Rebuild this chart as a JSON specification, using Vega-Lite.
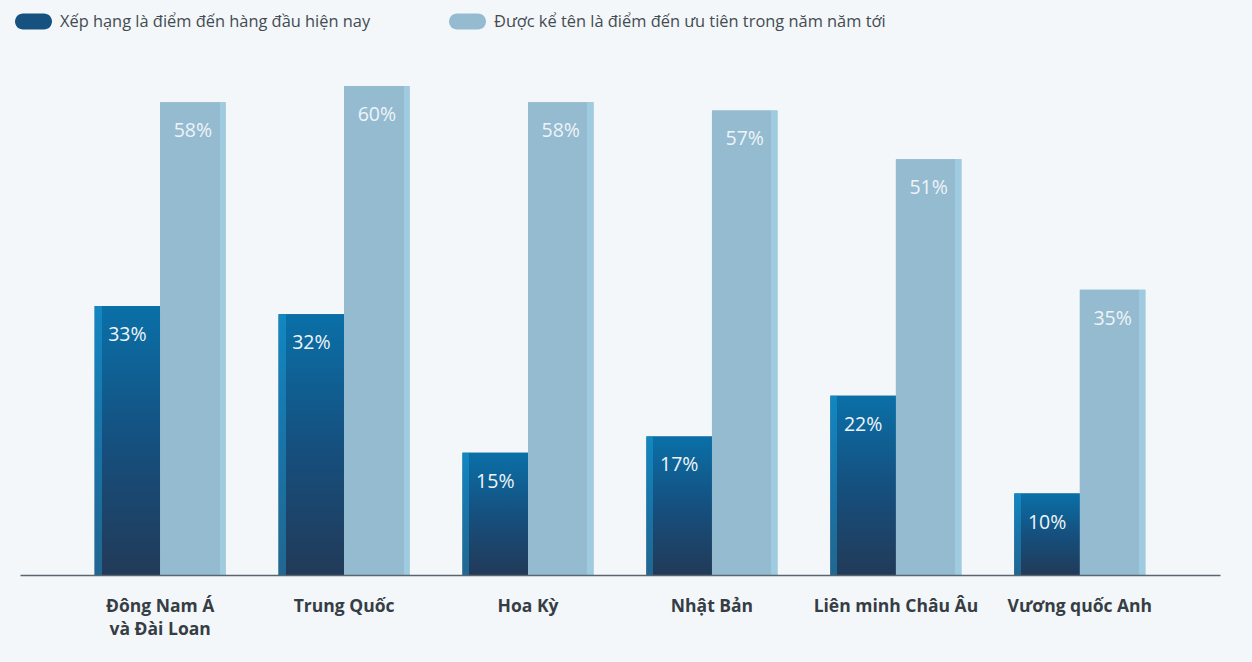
{
  "$schema": "https://vega.github.io/schema/vega-lite/v6.json",
  "width": 1200,
  "height": 489,
  "autosize": {"type": "none"},
  "padding": {"left": 20, "top": 86, "right": 32, "bottom": 87},
  "background": "#f3f7f9",
  "config": {
    "view": {"stroke": null},
    "font": "Open Sans"
  },
  "data": {
    "values": [
      {"region": "Đông Nam Á và Đài Loan", "series": "Xếp hạng là điểm đến hàng đầu hiện nay", "value": 33, "label": "33%"},
      {"region": "Đông Nam Á và Đài Loan", "series": "Được kể tên là điểm đến ưu tiên trong năm năm tới", "value": 58, "label": "58%"},
      {"region": "Trung Quốc", "series": "Xếp hạng là điểm đến hàng đầu hiện nay", "value": 32, "label": "32%"},
      {"region": "Trung Quốc", "series": "Được kể tên là điểm đến ưu tiên trong năm năm tới", "value": 60, "label": "60%"},
      {"region": "Hoa Kỳ", "series": "Xếp hạng là điểm đến hàng đầu hiện nay", "value": 15, "label": "15%"},
      {"region": "Hoa Kỳ", "series": "Được kể tên là điểm đến ưu tiên trong năm năm tới", "value": 58, "label": "58%"},
      {"region": "Nhật Bản", "series": "Xếp hạng là điểm đến hàng đầu hiện nay", "value": 17, "label": "17%"},
      {"region": "Nhật Bản", "series": "Được kể tên là điểm đến ưu tiên trong năm năm tới", "value": 57, "label": "57%"},
      {"region": "Liên minh Châu Âu", "series": "Xếp hạng là điểm đến hàng đầu hiện nay", "value": 22, "label": "22%"},
      {"region": "Liên minh Châu Âu", "series": "Được kể tên là điểm đến ưu tiên trong năm năm tới", "value": 51, "label": "51%"},
      {"region": "Vương quốc Anh", "series": "Xếp hạng là điểm đến hàng đầu hiện nay", "value": 10, "label": "10%"},
      {"region": "Vương quốc Anh", "series": "Được kể tên là điểm đến ưu tiên trong năm năm tới", "value": 35, "label": "35%"}
    ]
  },
  "encoding": {
    "x": {
      "field": "region",
      "type": "nominal",
      "sort": null,
      "scale": {"paddingInner": 0.288, "paddingOuter": 0.406},
      "axis": {
        "title": null,
        "labelAngle": 0,
        "ticks": false,
        "labelPadding": 22,
        "labelFontSize": 17.5,
        "labelFontWeight": "bold",
        "labelColor": "#363d44",
        "labelLineHeight": 23,
        "labelBaseline": "top",
        "domainColor": "#5a6572",
        "domainWidth": 1.5,
        "zindex": 1,
        "labelExpr": "datum.label == 'Đông Nam Á và Đài Loan' ? ['Đông Nam Á', 'và Đài Loan'] : datum.label"
      }
    },
    "xOffset": {
      "field": "series",
      "type": "nominal",
      "scale": {
        "domain": ["Xếp hạng là điểm đến hàng đầu hiện nay", "Được kể tên là điểm đến ưu tiên trong năm năm tới"],
        "paddingInner": 0,
        "paddingOuter": 0
      }
    },
    "y": {
      "field": "value",
      "type": "quantitative",
      "scale": {"domain": [0, 60], "nice": false},
      "axis": null
    }
  },
  "layer": [
    {
      "mark": {"type": "bar"},
      "encoding": {
        "color": {
          "field": "series",
          "type": "nominal",
          "scale": {
            "domain": ["Xếp hạng là điểm đến hàng đầu hiện nay", "Được kể tên là điểm đến ưu tiên trong năm năm tới"],
            "range": ["#15527f", "#94bbd0"]
          },
          "legend": {
            "title": null,
            "orient": "none",
            "direction": "horizontal",
            "legendX": -5,
            "legendY": -83,
            "symbolType": "M-0.568,-0.432 L0.568,-0.432 A0.432,0.432 0 0 1 0.568,0.432 L-0.568,0.432 A0.432,0.432 0 0 1 -0.568,-0.432 Z",
            "symbolSize": 1369,
            "symbolStrokeWidth": 0,
            "symbolOpacity": 1,
            "labelFontSize": 16.4,
            "labelColor": "#444b52",
            "labelOffset": 8,
            "columnPadding": 78,
            "labelLimit": 500
          }
        }
      }
    },
    {
      "transform": [{"filter": "datum.series == 'Xếp hạng là điểm đến hàng đầu hiện nay'"}],
      "mark": {
        "type": "bar",
        "color": {
          "gradient": "linear",
          "x1": 0, "y1": 0, "x2": 0, "y2": 1,
          "stops": [
            {"offset": 0, "color": "#0a70a8"},
            {"offset": 0.5, "color": "#15507f"},
            {"offset": 1, "color": "#223a58"}
          ]
        }
      }
    },
    {
      "transform": [{"filter": "datum.series == 'Xếp hạng là điểm đến hàng đầu hiện nay'"}],
      "mark": {
        "type": "bar",
        "color": {
          "gradient": "linear",
          "x1": 0, "y1": 0, "x2": 1, "y2": 0,
          "stops": [
            {"offset": 0, "color": "rgba(30,170,230,0.4)"},
            {"offset": 0.106, "color": "rgba(30,170,230,0.4)"},
            {"offset": 0.106, "color": "rgba(0,0,0,0)"},
            {"offset": 1, "color": "rgba(0,0,0,0)"}
          ]
        }
      }
    },
    {
      "transform": [{"filter": "datum.series == 'Được kể tên là điểm đến ưu tiên trong năm năm tới'"}],
      "mark": {
        "type": "bar",
        "color": {
          "gradient": "linear",
          "x1": 0, "y1": 0, "x2": 1, "y2": 0,
          "stops": [
            {"offset": 0, "color": "#94bbd0"},
            {"offset": 0.908, "color": "#94bbd0"},
            {"offset": 0.908, "color": "#9ecbdf"},
            {"offset": 1, "color": "#9ecbdf"}
          ]
        }
      }
    },
    {
      "mark": {
        "type": "text",
        "baseline": "middle",
        "dy": 29,
        "fontSize": 19.5,
        "fontWeight": 400,
        "color": "#eef4f8"
      },
      "encoding": {
        "text": {"field": "label", "type": "nominal"},
        "detail": {"field": "series"}
      }
    }
  ]
}
